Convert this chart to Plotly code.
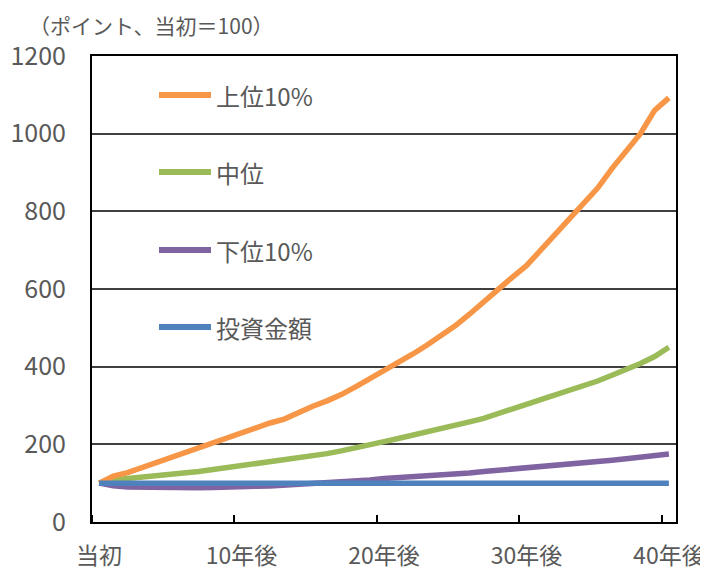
import plotly.graph_objects as go

years = list(range(41))
tick_vals = [0, 10, 20, 30, 40]
tick_text = ["当初", "10年後", "20年後", "30年後", "40年後"]

series_names = ["上位10%", "中位", "下位10%", "投資金額"]
top10 = [100, 118, 127, 140, 152, 165, 178, 190, 203, 215, 230, 242, 255, 265, 282,
         298, 312, 328, 348, 368, 388, 412, 432, 455, 478, 505, 535, 568, 600, 630,
         660, 700, 740, 780, 825, 860, 910, 955, 1000, 1060, 1092]
median = [100, 108, 112, 115, 118, 121, 126, 130, 135, 140, 145, 149, 153, 158, 164,
          170, 176, 183, 190, 197, 207, 215, 223, 232, 241, 249, 258, 267, 278, 289,
          303, 315, 327, 340, 350, 363, 378, 392, 408, 426, 450]
bottom10 = [100, 93, 90, 89, 88, 88, 88, 88, 89, 89, 90, 92, 93, 95, 97,
            99, 100, 102, 105, 108, 112, 114, 116, 119, 122, 124, 126, 130, 133, 136,
            139, 141, 144, 147, 151, 155, 159, 163, 167, 171, 175]
invest = [100] * 41

colors = ["#F79646", "#9BBB59", "#8064A2", "#4F81BD"]
FONT = "Noto Sans CJK JP"
TXT = "#595959"

# page body has an 8px margin, so work in figure coordinates = screen - 8
OFF = 8
FW, FH = 708 - OFF, 572 - OFF
L, R, T, B = 92 - OFF, 676 - OFF, 56 - OFF, 522 - OFF
W, H = R - L, B - T

fig = go.Figure()
order = [(bottom10, 2), (median, 1), (top10, 0), (invest, 3)]
for vals, k in order:
    fig.add_trace(go.Scatter(x=years, y=vals, mode="lines", name=series_names[k],
                             line=dict(color=colors[k], width=5.5),
                             showlegend=False, hoverinfo="skip"))

# manual legend (screen-pixel positions converted to paper coordinates)
legend_y = [95, 172, 250, 327]
for k, py in enumerate(legend_y):
    yp = (B - (py - OFF)) / H
    fig.add_shape(type="line", xref="paper", yref="paper",
                  x0=(159 - OFF - L) / W, x1=(211 - OFF - L) / W, y0=yp, y1=yp,
                  line=dict(color=colors[k], width=6))
    fig.add_annotation(xref="paper", yref="paper", x=(214 - OFF - L) / W, y=yp,
                       text=series_names[k], showarrow=False, xanchor="left",
                       yanchor="middle", font=dict(family=FONT, size=24, color=TXT))

fig.add_annotation(xref="paper", yref="paper", x=(27 - OFF - L) / W, y=(B - (25 - OFF)) / H,
                   text="（ポイント、当初＝100）", showarrow=False, xanchor="left",
                   yanchor="middle", font=dict(family=FONT, size=21, color=TXT))

fig.update_layout(
    width=FW, height=FH,
    margin=dict(l=L, r=FW - R, t=T, b=FH - B, autoexpand=False),
    paper_bgcolor="white", plot_bgcolor="white",
    font=dict(family=FONT, size=24, color=TXT),
    xaxis=dict(range=[-0.5, 40.5], tickmode="array", tickvals=tick_vals, ticktext=tick_text,
               ticks="", showgrid=False, zeroline=False, automargin=False,
               showline=True, linecolor="black", linewidth=2, mirror=True,
               ticklabelstandoff=12, tickfont=dict(size=23),
               minor=dict(tickmode="linear", tick0=-0.5, dtick=10, ticks="inside",
                          ticklen=7, tickwidth=2, tickcolor="black", showgrid=False)),
    yaxis=dict(range=[0, 1200], tickmode="linear", tick0=0, dtick=200,
               showgrid=True, gridcolor="#404040", gridwidth=1.5, zeroline=False,
               showline=True, linecolor="black", linewidth=2, mirror=True,
               automargin=False, tickfont=dict(size=25),
               ticks="", ticklabelstandoff=19),
)

fig.write_html("out.html")
